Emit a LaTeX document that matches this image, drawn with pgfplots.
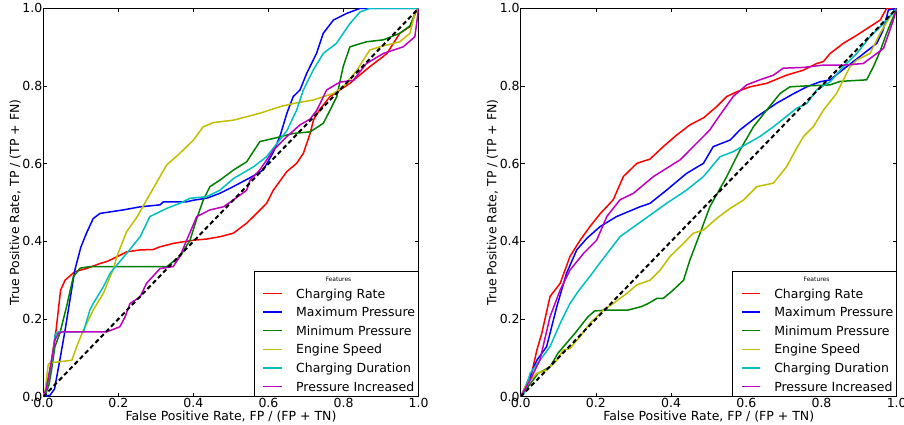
\documentclass[border=0pt]{standalone}
\usepackage{fontspec}
\setmainfont{DejaVu Sans}
\usepackage{pgfplots}
\pgfplotsset{compat=1.18}
\definecolor{mR}{rgb}{1,0,0}
\definecolor{mB}{rgb}{0,0,1}
\definecolor{mG}{rgb}{0,0.5,0}
\definecolor{mY}{rgb}{0.75,0.75,0}
\definecolor{mC}{rgb}{0,0.75,0.75}
\definecolor{mM}{rgb}{0.75,0,0.75}
\newcommand{\lfont}{\fontsize{12.5}{15}\selectfont}
\pgfplotsset{
  rocstyle/.style={
    scale only axis, height=388.3pt,
    xmin=0, xmax=1, ymin=0, ymax=1,
    xtick={0,0.2,0.4,0.6,0.8,1}, ytick={0,0.2,0.4,0.6,0.8,1},
    tick align=inside, major tick length=4pt,
    tick style={black, line width=0.8pt},
    axis line style={line width=1pt},
    /pgf/number format/fixed, /pgf/number format/fixed zerofill,
    /pgf/number format/precision=1, /pgf/number format/assume math mode=true,
    ticklabel style={font=\lfont},
    yticklabel style={xshift=2.5pt},
    xticklabel style={yshift=1.9pt},
    label style={font=\lfont},
    xlabel={False Positive Rate, FP / (FP + TN)},
    ylabel={True Positive Rate, TP / (TP + FN)},
    xlabel style={at={(axis description cs:0.5,-0.0618)}, anchor=base},
    ylabel style={at={(axis description cs:-0.0647,0.5)}, anchor=base},
    legend cell align=left,
    legend style={at={(1,0)}, anchor=south east, draw=black, line width=1pt, fill=white,
      inner xsep=2pt, inner ysep=0.4pt, row sep=0pt, font=\lfont,
      nodes={font=\lfont, inner xsep=1pt, inner ysep=0pt, text height=13.9pt, text depth=4.7pt}},
    legend image code/.code={\path[draw=none] (0pt,0pt) -- (38.3pt,0pt); \draw[##1, line width=1.5pt] (6.6pt,0pt) -- (25.3pt,0pt);},
  },
  cv/.style={#1, line width=1.5pt, line join=round, no markers},
  diag/.style={black, line width=2pt, dash pattern=on 4.5pt off 3pt, forget plot},
}
\newcommand{\legtitle}{\addlegendimage{empty legend}\addlegendentry[anchor=base west, text height=9.8pt, text depth=2.8pt, font=\fontsize{6}{7}\selectfont]{\hspace*{42.3pt}\makebox[0pt][c]{Features}}}
\begin{document}
\begin{tikzpicture}
\begin{axis}[rocstyle, width=375.3pt, at={(43.3pt,28.3pt)}, anchor=south west]
\legtitle
\addplot[cv=mR] coordinates {(0,0) (0.005,0.004) (0.015,0.05) (0.022,0.094) (0.034,0.171) (0.046,0.274) (0.058,0.300) (0.084,0.322) (0.115,0.330) (0.151,0.343) (0.169,0.348) (0.187,0.356) (0.222,0.373) (0.258,0.378) (0.293,0.379) (0.311,0.386) (0.347,0.395) (0.400,0.403) (0.435,0.406) (0.471,0.412) (0.506,0.421) (0.542,0.447) (0.560,0.464) (0.595,0.498) (0.613,0.532) (0.649,0.580) (0.675,0.601) (0.693,0.627) (0.711,0.678) (0.720,0.713) (0.737,0.740) (0.764,0.773) (0.817,0.807) (0.870,0.850) (0.915,0.883) (0.950,0.936) (0.977,0.953) (0.995,0.996) (1,1)};
\addlegendentry{Charging Rate}
\addplot[cv=mB] coordinates {(0,0) (0.018,0.004) (0.030,0.02) (0.036,0.052) (0.044,0.094) (0.058,0.171) (0.071,0.249) (0.084,0.326) (0.100,0.385) (0.115,0.421) (0.133,0.459) (0.151,0.472) (0.178,0.476) (0.213,0.481) (0.258,0.489) (0.311,0.494) (0.320,0.502) (0.382,0.502) (0.400,0.506) (0.435,0.511) (0.471,0.524) (0.506,0.541) (0.551,0.564) (0.586,0.584) (0.613,0.630) (0.631,0.672) (0.649,0.730) (0.666,0.773) (0.684,0.790) (0.702,0.833) (0.728,0.884) (0.746,0.936) (0.773,0.970) (0.808,0.987) (0.844,1.0) (1,1)};
\addlegendentry{Maximum Pressure}
\addplot[cv=mG] coordinates {(0,0) (0.005,0.004) (0.015,0.03) (0.022,0.069) (0.031,0.129) (0.044,0.163) (0.062,0.232) (0.080,0.309) (0.098,0.331) (0.124,0.335) (0.329,0.335) (0.364,0.361) (0.391,0.403) (0.409,0.459) (0.426,0.506) (0.444,0.541) (0.471,0.558) (0.507,0.584) (0.542,0.605) (0.577,0.657) (0.613,0.665) (0.666,0.678) (0.711,0.682) (0.746,0.704) (0.764,0.738) (0.782,0.773) (0.799,0.850) (0.817,0.901) (0.861,0.914) (0.906,0.919) (0.950,0.936) (0.977,0.955) (0.992,0.990) (1,1)};
\addlegendentry{Minimum Pressure}
\addplot[cv=mY] coordinates {(0,0) (0.005,0.017) (0.013,0.082) (0.018,0.087) (0.044,0.090) (0.076,0.094) (0.089,0.129) (0.107,0.172) (0.133,0.223) (0.160,0.266) (0.187,0.330) (0.196,0.361) (0.222,0.425) (0.249,0.462) (0.275,0.506) (0.311,0.567) (0.329,0.597) (0.364,0.627) (0.400,0.661) (0.426,0.695) (0.453,0.706) (0.506,0.712) (0.542,0.721) (0.577,0.730) (0.631,0.747) (0.666,0.755) (0.719,0.764) (0.773,0.781) (0.799,0.798) (0.835,0.840) (0.870,0.893) (0.897,0.901) (0.950,0.914) (0.977,0.936) (0.990,0.987) (1,1)};
\addlegendentry{Engine Speed}
\addplot[cv=mC] coordinates {(0,0) (0.008,0.02) (0.020,0.08) (0.027,0.120) (0.031,0.159) (0.040,0.167) (0.107,0.167) (0.124,0.223) (0.133,0.240) (0.160,0.283) (0.178,0.318) (0.222,0.369) (0.258,0.412) (0.284,0.464) (0.329,0.485) (0.364,0.498) (0.391,0.511) (0.435,0.515) (0.471,0.532) (0.507,0.562) (0.560,0.592) (0.595,0.618) (0.621,0.650) (0.649,0.685) (0.675,0.738) (0.693,0.790) (0.719,0.841) (0.746,0.884) (0.781,0.910) (0.817,0.961) (0.844,0.991) (0.870,1.0) (1,1)};
\addlegendentry{Charging Duration}
\addplot[cv=mM] coordinates {(0,0) (0.008,0.02) (0.022,0.094) (0.031,0.146) (0.040,0.163) (0.050,0.167) (0.169,0.167) (0.204,0.180) (0.218,0.206) (0.231,0.240) (0.258,0.257) (0.275,0.292) (0.311,0.330) (0.346,0.335) (0.364,0.361) (0.382,0.403) (0.409,0.464) (0.444,0.481) (0.480,0.489) (0.507,0.507) (0.542,0.532) (0.551,0.558) (0.577,0.584) (0.613,0.635) (0.649,0.670) (0.684,0.700) (0.711,0.715) (0.729,0.738) (0.755,0.790) (0.790,0.810) (0.826,0.815) (0.861,0.858) (0.906,0.884) (0.959,0.901) (0.990,0.927) (1,1)};
\addlegendentry{Pressure Increased}
\addplot[diag] coordinates {(0,0) (1,1)};
\end{axis}
\begin{axis}[rocstyle, width=376pt, at={(520.7pt,28.3pt)}, anchor=south west]
\legtitle
\addplot[cv=mR] coordinates {(0,0) (0.025,0.043) (0.043,0.120) (0.056,0.163) (0.078,0.258) (0.105,0.292) (0.131,0.361) (0.158,0.403) (0.184,0.438) (0.212,0.472) (0.246,0.507) (0.273,0.567) (0.309,0.601) (0.344,0.612) (0.379,0.644) (0.415,0.674) (0.450,0.700) (0.486,0.718) (0.521,0.747) (0.548,0.773) (0.574,0.785) (0.610,0.798) (0.654,0.807) (0.707,0.828) (0.752,0.841) (0.787,0.858) (0.805,0.863) (0.823,0.884) (0.858,0.910) (0.894,0.931) (0.929,0.953) (0.956,0.970) (0.973,1.0) (1,1)};
\addlegendentry{Charging Rate}
\addplot[cv=mB] coordinates {(0,0) (0.016,0.034) (0.043,0.094) (0.069,0.129) (0.096,0.232) (0.122,0.318) (0.149,0.378) (0.176,0.408) (0.211,0.438) (0.255,0.464) (0.317,0.489) (0.344,0.498) (0.388,0.532) (0.441,0.575) (0.486,0.601) (0.512,0.644) (0.557,0.661) (0.583,0.687) (0.628,0.721) (0.681,0.756) (0.725,0.780) (0.761,0.798) (0.796,0.811) (0.823,0.816) (0.867,0.850) (0.902,0.876) (0.947,0.910) (0.964,0.944) (0.978,0.996) (1,1)};
\addlegendentry{Maximum Pressure}
\addplot[cv=mG] coordinates {(0,0) (0.046,0.060) (0.078,0.077) (0.099,0.112) (0.144,0.163) (0.179,0.206) (0.197,0.221) (0.232,0.223) (0.285,0.223) (0.321,0.232) (0.339,0.240) (0.362,0.253) (0.379,0.253) (0.406,0.275) (0.433,0.300) (0.450,0.352) (0.477,0.421) (0.503,0.489) (0.548,0.567) (0.583,0.635) (0.619,0.695) (0.654,0.738) (0.690,0.781) (0.716,0.798) (0.752,0.800) (0.823,0.803) (0.849,0.812) (0.920,0.816) (0.938,0.850) (0.956,0.890) (0.973,0.936) (1,1)};
\addlegendentry{Minimum Pressure}
\addplot[cv=mY] coordinates {(0,0) (0.016,0.034) (0.043,0.060) (0.069,0.069) (0.096,0.094) (0.113,0.120) (0.131,0.124) (0.158,0.155) (0.184,0.189) (0.220,0.223) (0.246,0.240) (0.282,0.266) (0.309,0.288) (0.344,0.300) (0.371,0.326) (0.397,0.361) (0.433,0.395) (0.459,0.421) (0.486,0.429) (0.521,0.459) (0.557,0.485) (0.592,0.506) (0.628,0.541) (0.672,0.550) (0.707,0.592) (0.734,0.640) (0.752,0.670) (0.778,0.695) (0.805,0.738) (0.840,0.781) (0.876,0.850) (0.894,0.867) (0.929,0.884) (0.956,0.936) (0.980,0.975) (1,1)};
\addlegendentry{Engine Speed}
\addplot[cv=mC] coordinates {(0,0) (0.010,0.01) (0.025,0.060) (0.051,0.094) (0.078,0.129) (0.105,0.189) (0.131,0.240) (0.152,0.270) (0.188,0.315) (0.211,0.345) (0.264,0.412) (0.326,0.455) (0.388,0.498) (0.441,0.532) (0.486,0.567) (0.530,0.618) (0.565,0.631) (0.636,0.670) (0.672,0.695) (0.734,0.743) (0.761,0.755) (0.787,0.790) (0.823,0.811) (0.858,0.850) (0.894,0.884) (0.929,0.927) (0.965,0.961) (1,1)};
\addlegendentry{Charging Duration}
\addplot[cv=mM] coordinates {(0,0) (0.025,0.043) (0.051,0.094) (0.078,0.206) (0.105,0.275) (0.131,0.326) (0.167,0.369) (0.202,0.403) (0.229,0.464) (0.264,0.507) (0.300,0.524) (0.353,0.567) (0.424,0.610) (0.459,0.644) (0.503,0.687) (0.521,0.713) (0.565,0.773) (0.601,0.803) (0.636,0.816) (0.672,0.828) (0.698,0.846) (0.752,0.848) (0.805,0.854) (0.858,0.854) (0.911,0.858) (0.947,0.884) (0.965,0.897) (0.991,0.970) (1,1)};
\addlegendentry{Pressure Increased}
\addplot[diag] coordinates {(0,0) (1,1)};
\end{axis}
\pgfresetboundingbox
\useasboundingbox (0pt,0pt) rectangle (904pt,425pt);
\end{tikzpicture}
\end{document}
